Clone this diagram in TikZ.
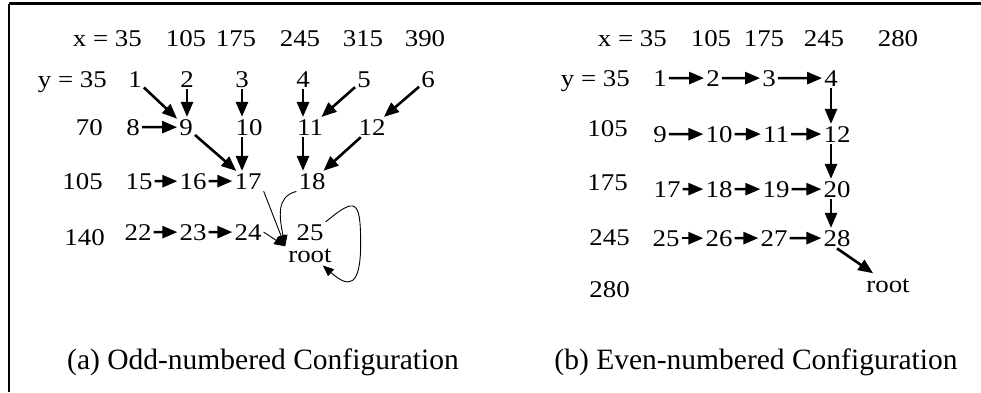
\documentclass[tikz,border=0pt]{standalone}
\usepackage{fontspec}
\setmainfont{Liberation Serif}
\newfontfamily\lbl[FakeStretch=1.12]{Liberation Serif}
\usetikzlibrary{arrows.meta}
\tikzset{
  lb/.style={font=\lbl\fontsize{24}{24}\selectfont, inner sep=2pt, anchor=base},
  rowlbl/.style={font=\lbl\fontsize{24}{24}\selectfont, inner sep=0pt, anchor=base east},
  hdr/.style={font=\lbl\fontsize{24}{24}\selectfont, inner sep=0pt, anchor=base},
  captxt/.style={font=\fontsize{29.5}{30}\selectfont, inner sep=0pt, anchor=base},
  thk/.style={line width=2.6pt, -{Triangle[length=15pt,width=12pt]}},
  thn/.style={line width=0.9pt, -{Triangle[length=11pt,width=9pt]}},
  bordline/.style={line width=2.5pt, draw=black}
}
\begin{document}
\begin{tikzpicture}[x=1pt,y=-1pt]
\useasboundingbox (0,0) rectangle (981,392);
\coordinate (fbl) at (9,392);
\coordinate (ftl) at (9,3.7);
\coordinate (ftr) at (981,3.7);
\draw[bordline] (fbl) -- (ftl);
\draw[bordline] (ftl) -- (ftr);

% ---------- (a) ----------
\node[hdr, anchor=base east] (ax0) at (142,46.7) {x = 35};
\node[hdr] (ax1) at (186,46.7) {105};
\node[hdr] (ax2) at (236,46.7) {175};
\node[hdr] (ax3) at (300,46.7) {245};
\node[hdr] (ax4) at (363,46.7) {315};
\node[hdr] (ax5) at (425,46.7) {390};

\node[rowlbl] (ay1) at (107,87) {y = 35};
\node[rowlbl] (ay2) at (103,135) {70};
\node[rowlbl] (ay3) at (103,189) {105};
\node[rowlbl] (ay4) at (105,245) {140};

\node[lb] (a1) at (135,87) {1};
\node[lb] (a2) at (187,87) {2};
\node[lb] (a3) at (242,87) {3};
\node[lb] (a4) at (303,87) {4};
\node[lb] (a5) at (364,87) {5};
\node[lb] (a6) at (428,87) {6};

\node[lb] (a8) at (133,135) {8};
\node[lb] (a9) at (186,135) {9};
\node[lb] (a10) at (249,135) {10};
\node[lb] (a11) at (310,135) {11};
\node[lb] (a12) at (372,135) {12};

\node[lb] (a15) at (139,189) {15};
\node[lb] (a16) at (193,189) {16};
\node[lb] (a17) at (248,189) {17};
\node[lb] (a18) at (312,189) {18};

\node[lb] (a22) at (138,240) {22};
\node[lb] (a23) at (193,240) {23};
\node[lb] (a24) at (248,240) {24};
\node[lb] (a25) at (310,240) {25};
\node[lb, inner sep=0pt] (aroot) at (310,262) {root};

\draw[thk] (a1) -- (a9);
\draw[thk] (a2.south) -- (a2.south |- a9.north);
\draw[thk] (a3.south) -- (a3.south |- a10.north);
\draw[thk] (a4.south) -- (a4.south |- a11.north);
\draw[thk] (a5) -- (a11);
\draw[thk] (a6) -- (a12);
\draw[thk] (a8) -- (a9);
\draw[thk] (a9) -- (a17);
\draw[thk] (a10.south -| a3) -- (a3 |- a17.north);
\draw[thk] (a11.south -| a4) -- (a4 |- a18.north);
\draw[thk] (a12) -- (a18);
\draw[thk] (a15) -- (a16);
\draw[thk] (a16) -- (a17);
\draw[thk] (a22) -- (a23);
\draw[thk] (a23) -- (a24);

\draw[thn] (a17.south east) -- ([xshift=-3pt,yshift=2pt]aroot.north west);
\draw[thn] (a24.east) -- ([xshift=-3pt,yshift=2pt]aroot.north west);
\draw[thn] (a18.south west) .. controls +(-20,5) and +(-6,-30) .. ([xshift=-3pt,yshift=2pt]aroot.north west);
\draw[thn] (a25.north east) .. controls +(30,-25) and +(0,-45) .. ++(35,22)
  .. controls +(0,45) and +(25,22) .. ([xshift=-9pt,yshift=-3pt]aroot.south east);

\node[captxt] (capa) at (263,369) {(a) Odd-numbered Configuration};

% ---------- (b) ----------
\node[hdr, anchor=base east] (bx0) at (667,46.7) {x = 35};
\node[hdr] (bx1) at (711,46.7) {105};
\node[hdr] (bx2) at (764,46.7) {175};
\node[hdr] (bx3) at (824,46.7) {245};
\node[hdr] (bx4) at (898,46.7) {280};

\node[rowlbl] (by1) at (630,86) {y = 35};
\node[rowlbl] (by2) at (628,136) {105};
\node[rowlbl] (by3) at (628,190) {175};
\node[rowlbl] (by4) at (630,245) {245};
\node[rowlbl] (by5) at (630,297) {280};

\node[lb] (b1) at (660,86) {1};
\node[lb] (b2) at (713,86) {2};
\node[lb] (b3) at (769,86) {3};
\node[lb] (b4) at (831,86) {4};

\node[lb] (b9) at (660,142) {9};
\node[lb] (b10) at (719,142) {10};
\node[lb] (b11) at (776,142) {11};
\node[lb] (b12) at (837,142) {12};

\node[lb] (b17) at (667,197) {17};
\node[lb] (b18) at (719,197) {18};
\node[lb] (b19) at (776,197) {19};
\node[lb] (b20) at (837,197) {20};

\node[lb] (b25) at (666,246) {25};
\node[lb] (b26) at (719,246) {26};
\node[lb] (b27) at (774,246) {27};
\node[lb] (b28) at (837,246) {28};
\node[lb, inner sep=0pt] (broot) at (888,292) {root};

\draw[thk] (b1) -- (b2);
\draw[thk] (b2) -- (b3);
\draw[thk] (b3) -- (b4);
\draw[thk] (b9) -- (b10);
\draw[thk] (b10) -- (b11);
\draw[thk] (b11) -- (b12);
\draw[thk] (b17) -- (b18);
\draw[thk] (b18) -- (b19);
\draw[thk] (b19) -- (b20);
\draw[thk] (b25) -- (b26);
\draw[thk] (b26) -- (b27);
\draw[thk] (b27) -- (b28);
\draw[thk] (b4.south) -- (b4.south |- b12.north);
\draw[thk] (b12.south -| b4) -- (b4 |- b20.north);
\draw[thk] (b20.south -| b4) -- (b4 |- b28.north);
\draw[thk] (b28.south) -- ([xshift=7pt,yshift=5pt]broot.north west);

\node[captxt] (capb) at (756,369) {(b) Even-numbered Configuration};
\end{tikzpicture}
\end{document}
